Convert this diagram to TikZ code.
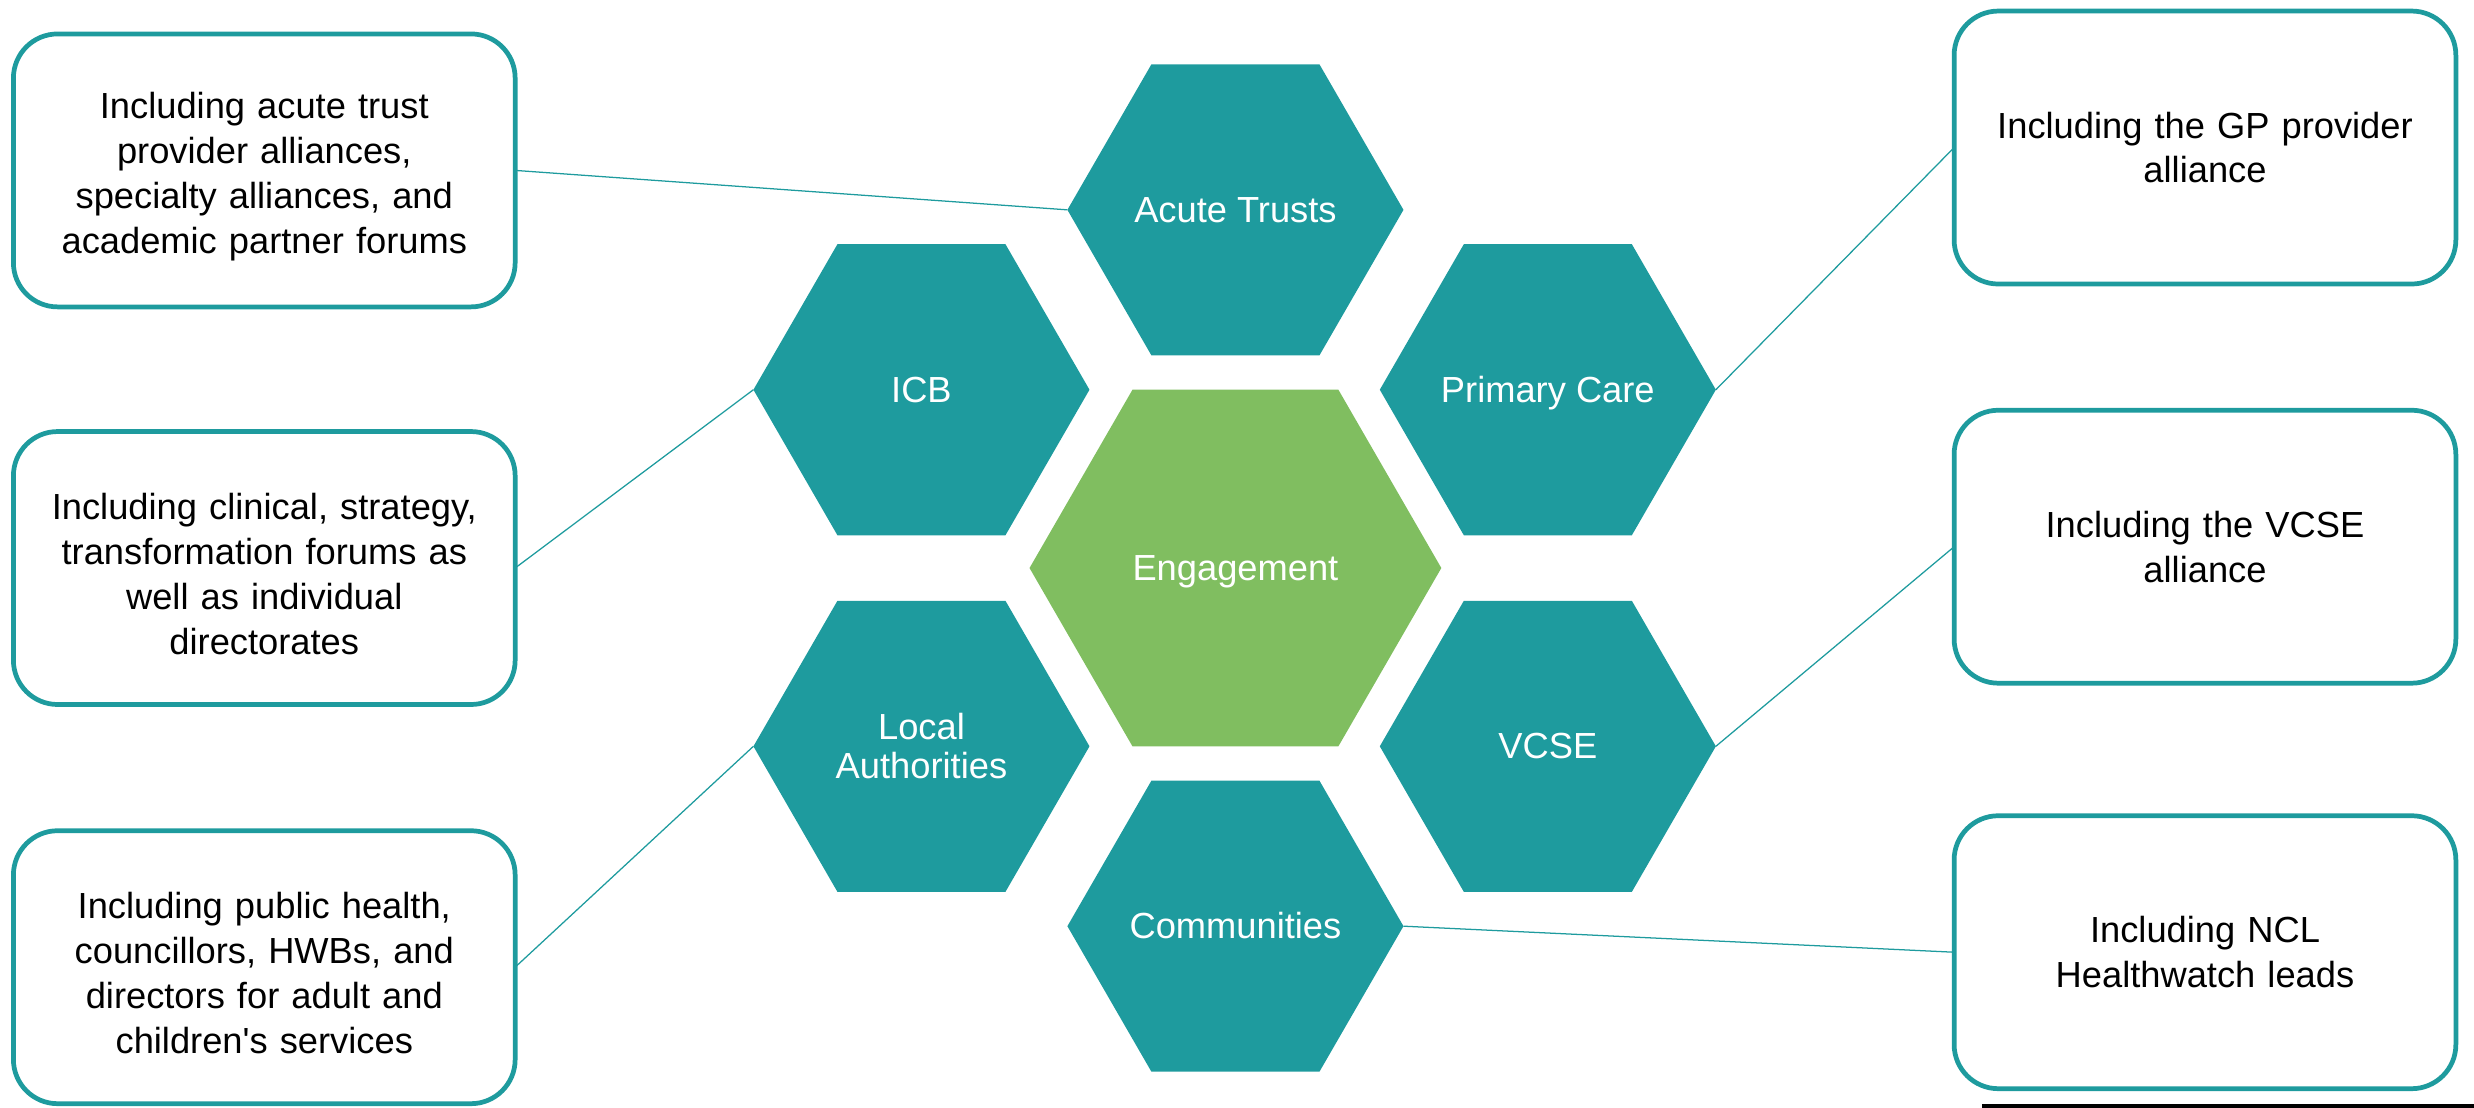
\documentclass[tikz,border=0pt]{standalone}
\usepackage{fontspec}
\setmainfont{Liberation Sans}
\usetikzlibrary{shapes.geometric}
\definecolor{tealc}{RGB}{30,155,158}
\definecolor{greenc}{RGB}{128,190,96}
\newcommand{\hextext}[1]{\makebox[0pt]{\raisebox{-3pt}[\height][\depth]{\begin{tabular}{@{}c@{}}#1\end{tabular}}}}
\newcommand{\topstrut}{\rule{0pt}{24pt}}
\begin{document}
\begin{tikzpicture}[x=1pt,y=-1pt,
 hexa/.style={regular polygon, regular polygon sides=6,
   minimum size=213pt, inner sep=0pt, outer sep=0pt, fill=tealc, text=white,
   font=\fontsize{23}{25}\selectfont},
 infobox/.style={draw=tealc, line width=3pt, rounded corners=28pt, fill=white,
   minimum width=318pt, minimum height=173pt, text width=300pt, align=center,
   inner sep=0pt, outer sep=0pt, font=\fontsize{23}{28.5}\selectfont},
 link/.style={draw=tealc, line width=0.8pt}]
\useasboundingbox (0,0) rectangle (1568,702);

% hexagons
\node[hexa] (acute) at (783,133) {\hextext{Acute Trusts}};
\node[hexa] (icb) at (584,247) {\hextext{ICB}};
\node[hexa] (primary) at (981,247) {\hextext{Primary Care}};
\node[hexa, minimum size=261pt, fill=greenc] (eng) at (783,360) {\hextext{Engagement}};
\node[hexa] (local) at (584,473) {\hextext{Local\\Authorities}};
\node[hexa] (vcse) at (981,473) {\hextext{VCSE}};
\node[hexa] (comm) at (783,587) {\hextext{Communities}};

% boxes
\node[infobox] (b1) at (167.5,108) {\topstrut Including acute trust\\provider alliances,\\specialty alliances, and\\academic partner forums};
\node[infobox] (b2) at (167.5,360) {\topstrut Including clinical, strategy,\\transformation forums as\\well as individual\\directorates};
\node[infobox] (b3) at (167.5,613) {\topstrut Including public health,\\councillors, HWBs, and\\directors for adult and\\children\textquotesingle s services};
\node[infobox] (b4) at (1397.5,93.5) {Including the GP provider\\alliance};
\node[infobox] (b5) at (1397.5,346.5) {Including the VCSE\\alliance};
\node[infobox] (b6) at (1397.5,603.5) {Including NCL\\Healthwatch leads};

% connectors
\draw[link] (b1.east) -- (acute.west);
\draw[link] (b2.east) -- (icb.west);
\draw[link] (b3.east) -- (local.west);
\draw[link] (b4.west) -- (primary.east);
\draw[link] (b5.west) -- (vcse.east);
\draw[link] (b6.west) -- (comm.east);

% bottom rule
\draw[black, line width=2pt] (1256,701) -- (1568,701);
\end{tikzpicture}
\end{document}
